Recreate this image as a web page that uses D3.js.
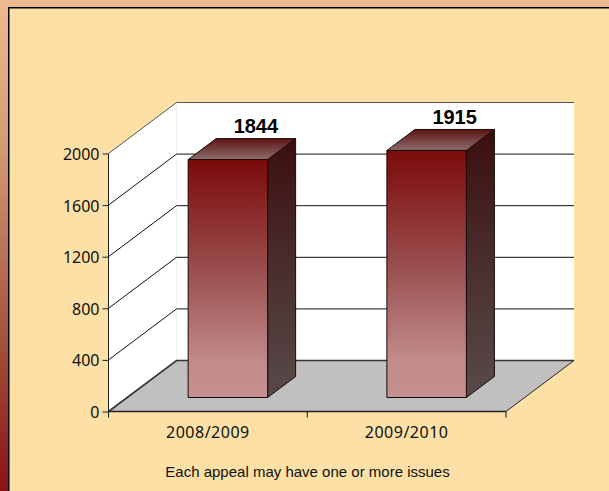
<!DOCTYPE html>
<html><head><meta charset="utf-8">
<script src="https://cdn.jsdelivr.net/npm/d3@7"></script>
<style>html,body{margin:0;padding:0;background:#fce0a6}svg{display:block}</style>
</head><body><svg id="c" width="609" height="491"></svg>
<script>
const categories = ["2008/2009", "2009/2010"];
const values = [1844, 1915];
const yTicks = [0, 400, 800, 1200, 1600, 2000];
const footnote = "Each appeal may have one or more issues";

const svg = d3.select("#c");
const defs = svg.append("defs");
function grad(id, stops) {
  const g = defs.append("linearGradient").attr("id", id).attr("x1", 0).attr("y1", 0).attr("x2", 0).attr("y2", 1);
  stops.forEach(([o, c]) => g.append("stop").attr("offset", o).attr("stop-color", c));
}
grad("bg", [[0, "#eeba91"], [0.3, "#d39a73"], [0.7, "#a2503d"], [1, "#8c1212"]]);
grad("front", [[0, "#7c0a0a"], [0.5, "#9c5353"], [0.85, "#c28b8b"], [1, "#c59090"]]);
grad("side", [[0, "#3c0e0e"], [0.5, "#4a2e2e"], [1, "#584a4a"]]);
grad("topf", [[0, "#5e1414"], [1, "#8c6c6c"]]);

svg.append("rect").attr("width", 609).attr("height", 491).attr("fill", "url(#bg)");
svg.append("rect").attr("x", 8.75).attr("y", 7.75).attr("width", 640).attr("height", 520)
  .attr("fill", "#fce0a6").attr("stroke", "#000").attr("stroke-width", 1.5);

const y = d3.scaleLinear().domain([0, 2000]).range([411.5, 153.5]);
const x = d3.scaleBand().domain(categories).range([108.5, 506]);
const D = { x: 68, y: -51 };      // full floor depth
const bd = { x: 28, y: -21 };     // bar depth
const inset = { x: 20, y: -14 };  // bar offset from the front of the floor
const pts = a => a.map(p => p.join(",")).join(" ");
const x0 = x.range()[0], x1 = x.range()[1];

// walls
svg.append("polygon").attr("fill", "#fff")
  .attr("points", pts([[x0, y(0)], [x0, y(2000)], [x0 + D.x, y(2000) + D.y], [x1 + D.x, y(2000) + D.y], [x1 + D.x, y(0) + D.y], [x1, y(0)]]));
// floor
svg.append("polygon").attr("fill", "#c0c0c0").attr("stroke", "none")
  .attr("points", pts([[x0, y(0)], [x1, y(0)], [x1 + D.x, y(0) + D.y], [x0 + D.x, y(0) + D.y]]));
svg.append("line").attr("x1", x0 + D.x).attr("x2", x0 + D.x).attr("y1", y(2000) + D.y).attr("y2", y(0) + D.y).attr("stroke", "#e8e8e8").attr("stroke-width", 0.6);

// gridlines
yTicks.forEach(t => {
  svg.append("polyline").attr("fill", "none")
    .attr("stroke", t === 2000 ? "#555" : (t === 0 ? "#333" : "#111"))
    .attr("stroke-width", t === 0 ? 1.6 : 1)
    .attr("points", pts([[x0, y(t)], [x0 + D.x, y(t) + D.y], [x1 + D.x, y(t) + D.y]]));
});
svg.append("line").attr("x1", x1).attr("x2", x1 + D.x).attr("y1", y(0)).attr("y2", y(0) + D.y).attr("stroke", "#222");

// bars
categories.forEach((c, i) => {
  const w = x.bandwidth() * 0.4;
  const l = x(c) + (x.bandwidth() - w) / 2 + inset.x;
  const r = l + w;
  const b = y(0) + inset.y;
  const t = y(values[i]) + inset.y;
  const g = svg.append("g").attr("stroke", "#1a0a0a").attr("stroke-width", 1).attr("stroke-linejoin", "round");
  g.append("polygon").attr("fill", "url(#side)").attr("points", pts([[r, t], [r + bd.x, t + bd.y], [r + bd.x, b + bd.y], [r, b]]));
  g.append("polygon").attr("fill", "url(#topf)").attr("points", pts([[l, t], [l + bd.x, t + bd.y], [r + bd.x, t + bd.y], [r, t]]));
  g.append("rect").attr("fill", "url(#front)").attr("x", l).attr("y", t).attr("width", w).attr("height", b - t);
  svg.append("text").attr("x", (l + r) / 2 + bd.x).attr("y", t + bd.y - 5.5)
    .attr("text-anchor", "middle").attr("font-family", "Liberation Sans").attr("font-weight", "bold")
    .attr("font-size", 20).attr("fill", "#000").text(values[i]);
});

// y axis
const gy = svg.append("g").attr("transform", `translate(${x0},0)`)
  .call(d3.axisLeft(y).tickValues(yTicks).tickSize(6).tickPadding(3).tickFormat(d3.format("d")));
gy.selectAll("text").attr("font-family", "Noto Sans").attr("font-size", 16).attr("dy", "0.38em").attr("fill", "#111");
gy.selectAll("line").attr("stroke", "#222");
gy.select(".domain").attr("stroke", "#222").attr("d", `M0,${y(2000)}V${y(0)}`);

// x axis
const gx = svg.append("g").attr("transform", `translate(0,${y(0)})`)
  .call(d3.axisBottom(x).tickSize(0).tickPadding(15));
gx.selectAll("text").attr("font-family", "Noto Sans").attr("font-size", 16).attr("letter-spacing", 0.5).attr("fill", "#111");
gx.select(".domain").attr("stroke", "#222").attr("stroke-width", 1.4).attr("d", `M${x0},0H${x1}`);
[x0, x0 + x.step(), x1].forEach(v => svg.append("line").attr("x1", v).attr("x2", v).attr("y1", y(0)).attr("y2", y(0) + 6).attr("stroke", "#111"));

svg.append("text").attr("x", 307.5).attr("y", 477).attr("text-anchor", "middle")
  .attr("font-family", "Liberation Sans").attr("font-size", 15).attr("fill", "#111").text(footnote);
</script></body></html>
